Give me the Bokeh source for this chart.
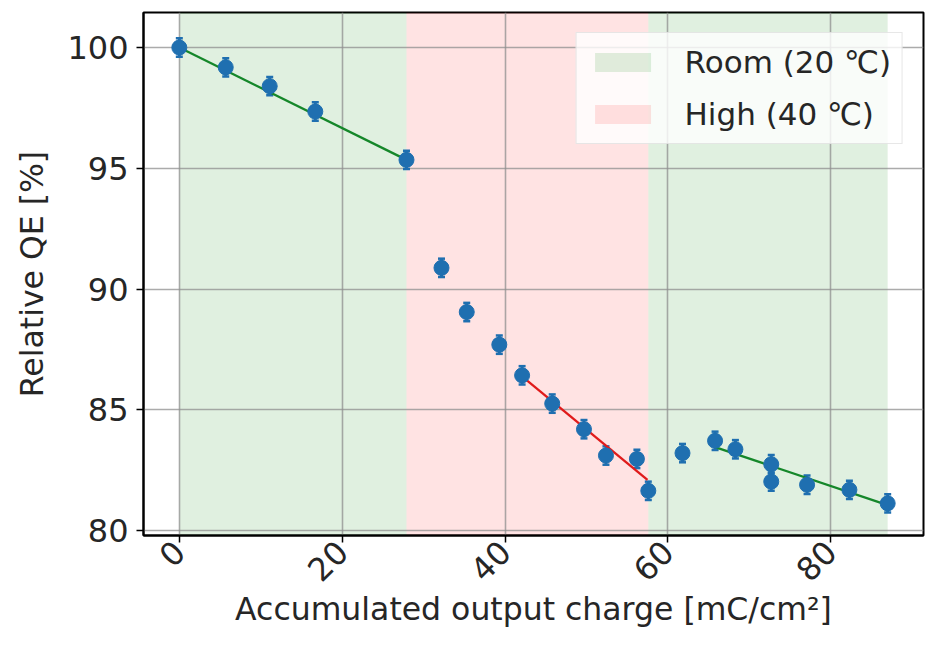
import math

from bokeh.embed import file_html
from bokeh.models import ColumnDataSource, FixedTicker, Range1d, TeeHead, Whisker
from bokeh.plotting import figure
from bokeh.resources import INLINE

# Measured relative QE versus accumulated output charge
charge = [0.0, 5.7, 11.1, 16.7, 27.9, 32.2, 35.3, 39.3, 42.1, 45.8, 49.7,
          52.4, 56.2, 57.6, 61.8, 65.8, 68.3, 72.7, 72.7, 77.1, 82.3, 87.0]
qe = [100.0, 99.18, 98.4, 97.35, 95.35, 90.88, 89.05, 87.7, 86.43, 85.26, 84.2,
      83.11, 82.97, 81.65, 83.21, 83.72, 83.37, 82.75, 82.03, 81.9, 81.69, 81.13]
qe_err = [0.38, 0.38, 0.38, 0.38, 0.38, 0.38, 0.38, 0.38, 0.38, 0.38, 0.38,
          0.38, 0.38, 0.38, 0.38, 0.38, 0.38, 0.38, 0.38, 0.38, 0.38, 0.38]

# Temperature phases (charge intervals)
room_start = [0.0, 57.6]
room_end = [27.9, 87.0]
high_start = [27.9]
high_end = [57.6]

# Linear fits per phase (end points)
fit1_x = [0.0, 27.9]
fit1_y = [100.0, 95.35]
fit2_x = [42.5, 57.5]
fit2_y = [86.27, 82.1]
fit3_x = [65.8, 86.9]
fit3_y = [83.46, 81.07]

x_ticks = [0, 20, 40, 60, 80]
y_ticks = [80, 85, 90, 95, 100]

x_lo, x_hi = -4.4, 91.4
y_lo, y_hi = 79.8, 101.45

FONT = "DejaVu Sans"
TEXT_COLOR = "#262626"
POINT_COLOR = "#1f6fb0"

p = figure(width=925, height=646, output_backend="svg", toolbar_location=None,
           x_range=Range1d(x_lo, x_hi), y_range=Range1d(y_lo, y_hi),
           min_border_left=143, min_border_right=2, min_border_top=12,
           min_border_bottom=111)
p.background_fill_color = "white"
p.border_fill_color = "white"
p.outline_line_color = "black"
p.outline_line_width = 2

# Shaded temperature phases, below the grid
p.quad(left=room_start, right=room_end, bottom=[y_lo] * len(room_start),
       top=[y_hi] * len(room_start), fill_color="green", fill_alpha=0.12,
       line_color=None, level="image", legend_label="Room (20 ℃)")
p.quad(left=high_start, right=high_end, bottom=[y_lo] * len(high_start),
       top=[y_hi] * len(high_start), fill_color="red", fill_alpha=0.11,
       line_color=None, level="image", legend_label="High (40 ℃)")

# Fit lines
p.line(fit1_x, fit1_y, line_color="#15872a", line_width=2.3)
p.line(fit2_x, fit2_y, line_color="#e01b1b", line_width=2.3)
p.line(fit3_x, fit3_y, line_color="#15872a", line_width=2.3)

# Data points with error bars
src = ColumnDataSource(data=dict(
    x=charge, y=qe,
    lower=[v - e for v, e in zip(qe, qe_err)],
    upper=[v + e for v, e in zip(qe, qe_err)],
))
whisk = Whisker(source=src, base="x", lower="lower", upper="upper",
                line_color=POINT_COLOR, line_width=3,
                upper_head=TeeHead(size=7, line_color=POINT_COLOR, line_width=2.5),
                lower_head=TeeHead(size=7, line_color=POINT_COLOR, line_width=2.5))
p.add_layout(whisk)
p.scatter("x", "y", source=src, size=15, fill_color=POINT_COLOR,
          line_color=POINT_COLOR)

# Grid
for g in (p.xgrid, p.ygrid):
    g.grid_line_color = "#8f8f8f"
    g.grid_line_alpha = 0.75
    g.grid_line_width = 1.6
p.xgrid.ticker = FixedTicker(ticks=x_ticks)
p.ygrid.ticker = FixedTicker(ticks=y_ticks)

# Axes
p.xaxis.ticker = FixedTicker(ticks=x_ticks)
p.yaxis.ticker = FixedTicker(ticks=y_ticks)
p.xaxis.axis_label = "Accumulated output charge [mC/cm²]"
p.yaxis.axis_label = "Relative QE [%]"
for ax in (p.xaxis[0], p.yaxis[0]):
    ax.axis_line_color = "black"
    ax.axis_line_width = 2
    ax.major_tick_line_color = "black"
    ax.major_tick_line_width = 1.5
    ax.major_tick_out = 7
    ax.major_tick_in = 0
    ax.minor_tick_line_color = None
    ax.major_label_text_font = FONT
    ax.major_label_text_font_size = "32px"
    ax.major_label_text_color = TEXT_COLOR
    ax.axis_label_text_font = FONT
    ax.axis_label_text_font_size = "31.5px"
    ax.axis_label_text_font_style = "normal"
    ax.axis_label_text_color = TEXT_COLOR
p.xaxis.major_label_orientation = math.pi / 4
p.xaxis.major_label_standoff = 4
p.xaxis.axis_label_standoff = -4
p.yaxis.major_label_standoff = 8
p.yaxis.axis_label_standoff = 14

# Legend
leg = p.legend[0]
leg.location = "top_right"
leg.margin = 20
leg.padding = 11
leg.spacing = 16
leg.glyph_width = 70
leg.glyph_height = 24
leg.label_standoff = 27
leg.label_text_font = FONT
leg.label_text_font_size = "31px"
leg.label_text_color = TEXT_COLOR
leg.background_fill_alpha = 0.8
leg.border_line_color = "#d0d0d0"
leg.border_line_width = 1.5

open("out.html", "w").write(file_html(p, INLINE))
